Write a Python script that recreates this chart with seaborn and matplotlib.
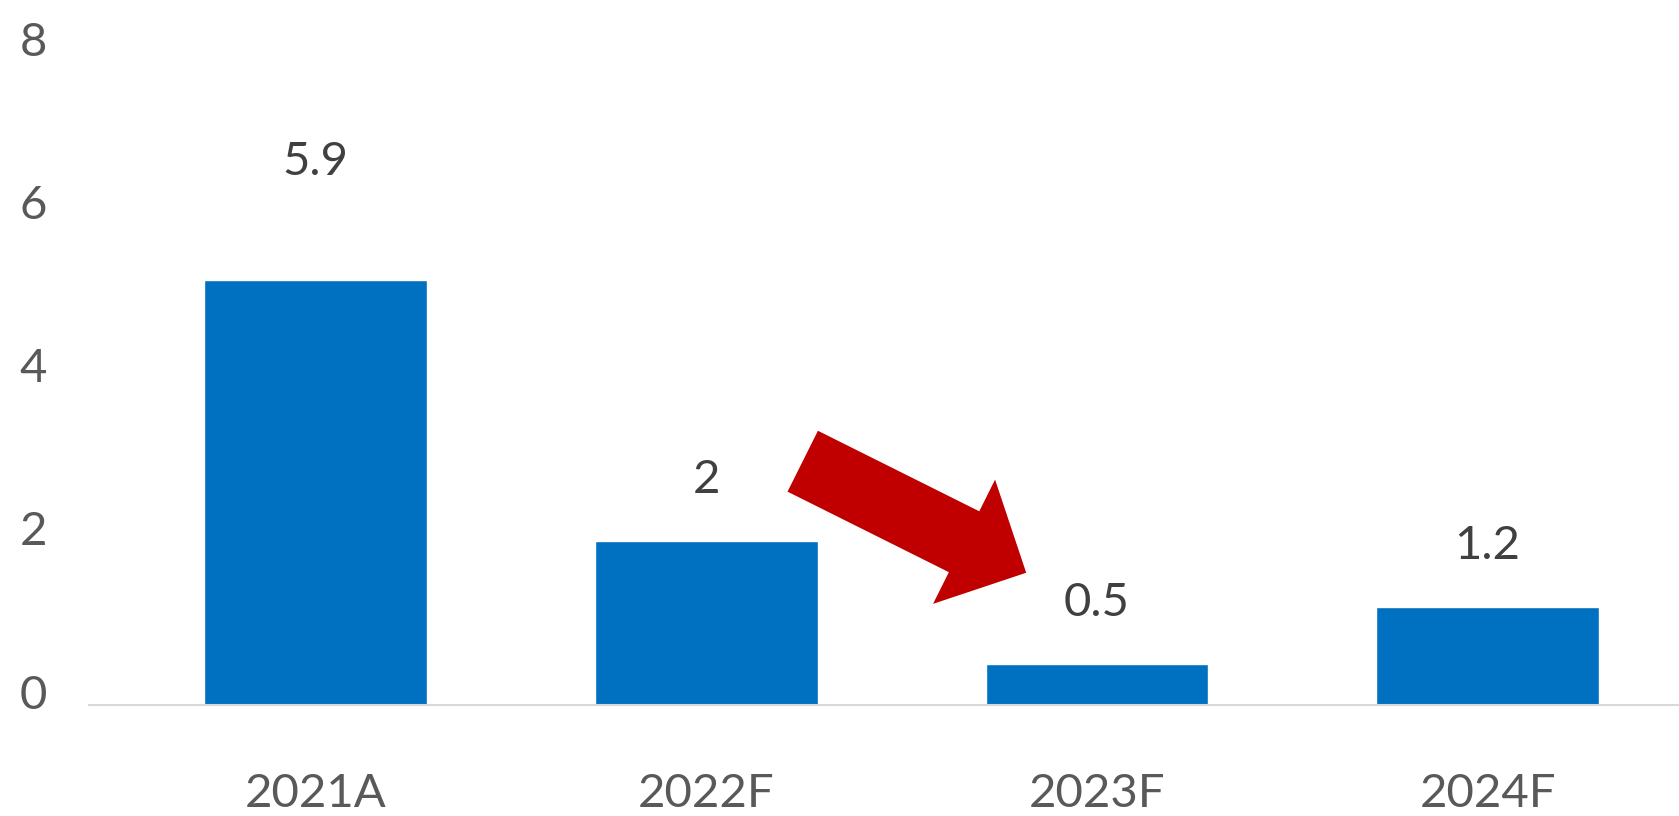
import pandas as pd
import matplotlib.pyplot as plt
import matplotlib.transforms as mtransforms
import seaborn as sns

# Chart data
years = ['2021A', '2022F', '2023F', '2024F']
bar_heights = [5.2, 2.0, 0.5, 1.2]      # bar heights as drawn in the picture
label_values = [5.9, 2, 0.5, 1.2]       # values printed above the bars
label_texts = ['5.9', '2', '0.5', '1.2']

df = pd.DataFrame({'Year': years, 'Value': bar_heights})

sns.set_style('white')
plt.rcParams['font.family'] = ['Lato', 'DejaVu Sans']

fig = plt.figure(figsize=(16.79, 8.16), dpi=100)
ax = fig.add_axes([0.053, 0.1365, 0.947, 0.8])

sns.barplot(data=df, x='Year', y='Value', color='#0070C0', saturation=1,
            width=0.57, ax=ax)

ax.set_xlim(-0.58, 3.49)
ax.set_ylim(0, 8)
ax.set_yticks([0, 2, 4, 6, 8])
ax.set_xlabel('')
ax.set_ylabel('')

for s in ['top', 'right', 'left']:
    ax.spines[s].set_visible(False)
ax.spines['bottom'].set_color('#D9D9D9')
ax.spines['bottom'].set_linewidth(1.5)

ax.tick_params(axis='both', length=0, labelsize=34, labelcolor='#595959')
ax.tick_params(axis='y', pad=30)
ax.tick_params(axis='x', pad=49)

# y tick labels sit a little above their gridline positions
offset = mtransforms.ScaledTranslation(0, 13 / 100, fig.dpi_scale_trans)
for lbl in ax.get_yticklabels():
    lbl.set_transform(lbl.get_transform() + offset)

# value labels
for i, (v, t) in enumerate(zip(label_values, label_texts)):
    ax.annotate(t, xy=(i, v), xytext=(0, 44), textcoords='offset points',
                ha='center', va='center', fontsize=34, color='#404040')

# red arrow from 2022F towards 2023F
ax.annotate('', xy=(1.819, 1.616), xytext=(1.247, 2.983),
            arrowprops=dict(arrowstyle='simple, head_length=5, head_width=10, tail_width=4.9',
                            mutation_scale=10, color='#C00000', lw=0,
                            shrinkA=0, shrinkB=0))

plt.savefig('out.png', dpi=100)
